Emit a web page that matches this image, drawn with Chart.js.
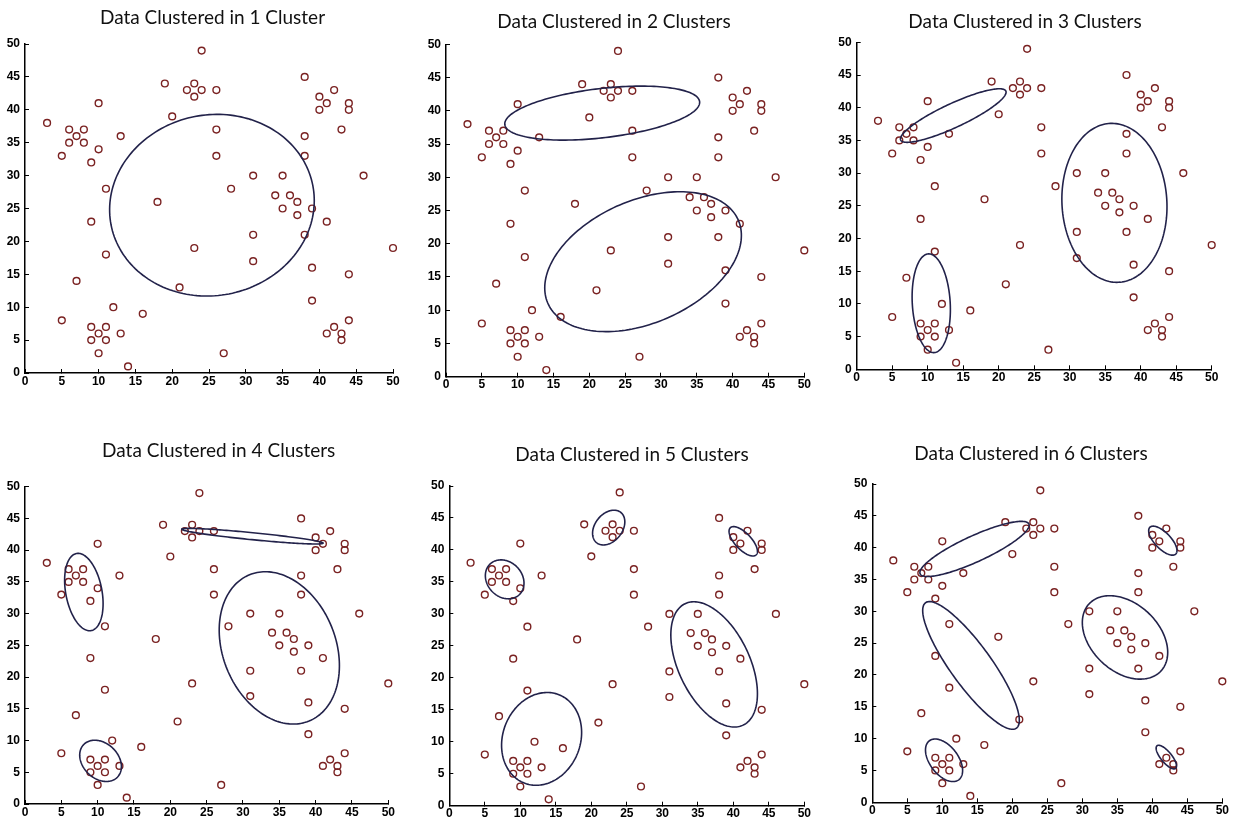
<!DOCTYPE html>
<html>
<head>
<meta charset="utf-8">
<title>Data Clustered</title>
<script src="https://cdn.jsdelivr.net/npm/chart.js@4.4.1/dist/chart.umd.min.js"></script>
<style>
  html, body { margin: 0; padding: 0; background: #fff; }
  body { width: 1236px; height: 827px; position: relative; overflow: hidden; }
  canvas { position: absolute; }
</style>
</head>
<body>
<script>
// the same 73 points are plotted in every panel
const pointX = [3, 5, 5, 6, 6, 7, 8, 8, 9, 9, 9, 9, 10, 10, 10, 10, 11, 11, 11, 11, 7, 12, 13, 13, 14, 16,
  18, 19, 20, 21, 22, 23, 23, 24, 24, 23, 26, 26, 26, 27, 28, 31, 31, 31, 34, 35, 35, 36, 37, 37,
  38, 38, 38, 38, 39, 39, 39, 40, 40, 41, 41, 41, 42, 42, 43, 43, 43, 44, 44, 44, 44, 46, 50];
const pointY = [38, 33, 8, 37, 35, 36, 37, 35, 32, 23, 7, 5, 41, 34, 6, 3, 28, 18, 7, 5, 14, 10, 36, 6, 1, 9,
  26, 44, 39, 13, 43, 44, 42, 43, 49, 19, 43, 37, 33, 3, 28, 30, 21, 17, 27, 30, 25, 27, 26, 24,
  45, 36, 33, 21, 25, 16, 11, 42, 40, 41, 23, 6, 43, 7, 37, 6, 5, 41, 40, 15, 8, 30, 19];

const tickValues = [0, 5, 10, 15, 20, 25, 30, 35, 40, 45, 50];

const panelTitles = [
  'Data Clustered in 1 Cluster',
  'Data Clustered in 2 Clusters',
  'Data Clustered in 3 Clusters',
  'Data Clustered in 4 Clusters',
  'Data Clustered in 5 Clusters',
  'Data Clustered in 6 Clusters'
];

// cluster ellipses: [centre x, centre y, semi-major, semi-minor, angle in degrees], data units
const ellipses1 = [[25.4, 25.5, 14.2, 13.5, 41]];
const ellipses2 = [[21.8, 39.65, 13.7, 3.7, 7.3], [27.5, 17.3, 14.7, 9.1, 27.2]];
const ellipses3 = [[13.6, 38.8, 8.3, 1.8, 27], [10.5, 10.1, 7.56, 2.67, -87], [36.3, 25.45, 12.16, 7.39, -87.35]];
const ellipses4 = [[8.1, 33.4, 6.16, 2.5, -81.1], [10.4, 6.8, 3.5, 2.56, -57],
  [31.3, 42.2, 9.79, 0.55, -6.45], [35.0, 24.6, 12.27, 7.87, -74.3]];
const ellipses5 = [[7.8, 35.4, 3.19, 2.55, -60.35], [22.45, 43.5, 2.93, 1.99, 59.4], [41.4, 41.35, 2.8, 1.2, -50.8],
  [13.0, 10.45, 7.35, 5.51, 75.85], [37.3, 22.1, 10.35, 5.1, -68.2]];
const ellipses6 = [[14.6, 39.8, 8.7, 2.0, 27], [14.1, 21.5, 11.8, 3.0, -57], [36.1, 25.9, 7.39, 5.05, -50.7],
  [41.5, 41.1, 2.8, 1.2, -50], [10.25, 6.6, 3.72, 2.09, -58], [42.0, 7.1, 2.22, 0.8, -54]];

// where each plot sits on the page (pixels): axis ends, title centre, row top
const panels = [
  { ellipses: ellipses1, left: 25, right: 393, top: 44, bottom: 373, titleX: 212.5, titleY: 17.5, rowTop: 0 },
  { ellipses: ellipses2, left: 446, right: 804.3, top: 44.3, bottom: 376.7, titleX: 614, titleY: 22, rowTop: 0 },
  { ellipses: ellipses3, left: 856.7, right: 1211.7, top: 42.3, bottom: 369.3, titleX: 1025, titleY: 22, rowTop: 0 },
  { ellipses: ellipses4, left: 25, right: 388.3, top: 486.7, bottom: 804, titleX: 218.7, titleY: 451, rowTop: 420 },
  { ellipses: ellipses5, left: 449.3, right: 804.3, top: 486, bottom: 805.7, titleX: 632, titleY: 455, rowTop: 420 },
  { ellipses: ellipses6, left: 872.3, right: 1224, top: 484, bottom: 802.3, titleX: 1031, titleY: 454, rowTop: 420 }
];

const TITLE_SIZE = 19;
const LINE_H = TITLE_SIZE * 1.2;
const X_AXIS_H = 24;
const Y_AXIS_W = 26;
const PAD_R = 10;

const tickFont = { family: "'Liberation Sans Narrow', 'Liberation Sans', Arial, sans-serif", size: 12, weight: 'bold' };

const ellipsePlugin = {
  id: 'clusterEllipses',
  afterDatasetsDraw(chart, args, opts) {
    const { ctx } = chart;
    const xs = chart.scales.x, ys = chart.scales.y;
    ctx.save();
    ctx.strokeStyle = opts.color;
    ctx.lineWidth = opts.width;
    for (const [cx, cy, a, b, deg] of opts.list) {
      const t = deg * Math.PI / 180;
      ctx.beginPath();
      for (let i = 0; i <= 180; i++) {
        const u = i / 180 * 2 * Math.PI;
        const dx = a * Math.cos(u), dy = b * Math.sin(u);
        const px = xs.getPixelForValue(cx + dx * Math.cos(t) - dy * Math.sin(t));
        const py = ys.getPixelForValue(cy + dx * Math.sin(t) + dy * Math.cos(t));
        if (i === 0) ctx.moveTo(px, py); else ctx.lineTo(px, py);
      }
      ctx.closePath();
      ctx.stroke();
    }
    ctx.restore();
  }
};

const points = pointX.map((x, i) => ({ x: x, y: pointY[i] }));

panels.forEach((p, i) => {
  let L = Math.round(p.left - Y_AXIS_W);
  let yw = p.left - L;
  let rw = 2 * p.titleX - L - p.right;
  if (rw < 0) {
    rw = 0;
    L = Math.floor(2 * p.titleX - p.right);
    yw = p.left - L;
  }
  const W = Math.ceil(p.right + rw + PAD_R - L);
  const padRight = W - (p.right + rw - L);
  const H = Math.ceil(p.bottom + X_AXIS_H - p.rowTop);
  const padBottom = H - (p.bottom + X_AXIS_H - p.rowTop);
  const padTop = p.titleY - p.rowTop - LINE_H / 2;
  const gap = p.top - (p.titleY + LINE_H / 2);

  const canvas = document.createElement('canvas');
  canvas.width = W;
  canvas.height = H;
  canvas.style.left = L + 'px';
  canvas.style.top = p.rowTop + 'px';
  document.body.appendChild(canvas);

  new Chart(canvas, {
    type: 'scatter',
    data: {
      datasets: [{
        data: points,
        pointStyle: 'circle',
        pointRadius: 3.4,
        pointBorderWidth: 1.4,
        borderColor: '#7a2222',
        backgroundColor: 'rgba(0,0,0,0)',
        clip: false
      }]
    },
    options: {
      responsive: false,
      devicePixelRatio: 1,
      animation: false,
      events: [],
      layout: { padding: { top: padTop, left: 0, right: padRight, bottom: padBottom } },
      scales: {
        x: {
          type: 'linear', min: 0, max: 50,
          afterBuildTicks: s => { s.ticks = tickValues.map(v => ({ value: v })); },
          afterFit: s => { s.height = X_AXIS_H; },
          grid: { drawOnChartArea: false, drawTicks: true, tickLength: -4, color: '#000', tickWidth: 1 },
          border: { display: true, color: '#000', width: 1.5 },
          ticks: { color: '#000', font: tickFont, padding: 5, maxRotation: 0, autoSkip: false }
        },
        y: {
          type: 'linear', min: 0, max: 50,
          afterBuildTicks: s => { s.ticks = tickValues.map(v => ({ value: v })); },
          afterFit: s => { s.width = yw; },
          grid: { drawOnChartArea: false, drawTicks: true, tickLength: -4, color: '#000', tickWidth: 1 },
          border: { display: true, color: '#000', width: 1.5 },
          ticks: { color: '#000', font: tickFont, padding: 9, autoSkip: false }
        },
        yRight: {
          type: 'linear', position: 'right', display: true,
          afterFit: s => { s.width = rw; },
          grid: { display: false, drawTicks: false },
          border: { display: false },
          ticks: { display: false }
        }
      },
      plugins: {
        legend: { display: false },
        tooltip: { enabled: false },
        title: {
          display: true,
          text: panelTitles[i],
          color: '#111',
          font: { family: 'Lato', size: TITLE_SIZE, weight: 'normal' },
          padding: { top: 0, bottom: gap }
        },
        clusterEllipses: { list: p.ellipses, color: '#22224a', width: 1.6 }
      }
    },
    plugins: [ellipsePlugin]
  });
});
</script>
</body>
</html>
